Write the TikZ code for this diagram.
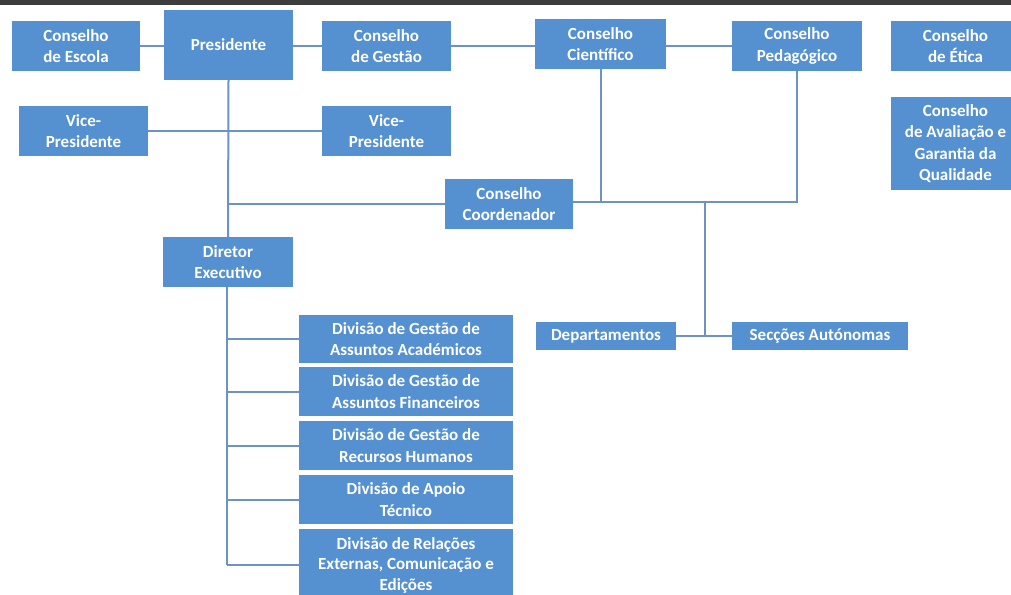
\documentclass[tikz,border=0pt]{standalone}
\usepackage{fontspec}
\setmainfont{Carlito}
\definecolor{boxblue}{HTML}{5590D0}
\definecolor{linkblue}{HTML}{6D92C4}
\definecolor{topbar}{HTML}{3C3C3C}
\begin{document}
\begin{tikzpicture}[x=1pt,y=-1pt,
  orgbox/.style={fill=boxblue, text=white, font=\fontsize{17}{21.5}\selectfont\bfseries,
    align=center, inner sep=0pt, minimum width=#1},
  orgbox/.default=129pt,
  link/.style={draw=linkblue, line width=2pt}]
\useasboundingbox (0,0) rectangle (1011,594);
\clip (0,0) rectangle (1011,594);
\fill[topbar] (0,0) rectangle (1011,5);
% top row
\node[orgbox=128pt, minimum height=50pt] (escola) at (76,46) {Conselho\\de Escola};
\node[orgbox, minimum height=70pt] (pres) at (228.5,45) {Presidente};
\node[orgbox, minimum height=50pt] (gestao) at (386.5,46) {Conselho\\de Gestão};
\node[orgbox=131pt, minimum height=50pt] (cient) at (600.5,44) {Conselho\\Científico};
\node[orgbox=130pt, minimum height=50pt] (pedag) at (797,46) {Conselho\\Pedagógico};
\node[orgbox, minimum height=50pt] (etica) at (955.5,46) {Conselho\\de Ética};
\node[orgbox, minimum height=93pt] (aval) at (955.5,143.5) {Conselho\\de Avaliação e\\Garantia da\\Qualidade};
% vice-presidents
\node[orgbox, minimum height=50pt] (vpL) at (83.5,131) {Vice-\\Presidente};
\node[orgbox, minimum height=50pt] (vpR) at (386.5,131) {Vice-\\Presidente};
% coordinator and director
\node[orgbox=128pt, minimum height=50pt] (coord) at (509,204) {Conselho\\Coordenador};
\node[orgbox=130pt, minimum height=50pt] (dir) at (228,262) {Diretor\\Executivo};
% divisions
\node[orgbox=214pt, minimum height=48pt] (div1) at (406,339) {Divisão de Gestão de\\Assuntos Académicos};
\node[orgbox=214pt, minimum height=49pt] (div2) at (406,391.5) {Divisão de Gestão de\\Assuntos Financeiros};
\node[orgbox=214pt, minimum height=49pt] (div3) at (406,445.5) {Divisão de Gestão de\\Recursos Humanos};
\node[orgbox=214pt, minimum height=49pt] (div4) at (406,499.5) {Divisão de Apoio\\Técnico};
\node[orgbox=214pt, minimum height=72pt, font=\fontsize{17}{20.5}\selectfont\bfseries] (div5) at (406,565) {Divisão de Relações\\Externas, Comunicação e\\Edições};
% departments
\node[orgbox=140pt, minimum height=28pt] (dep) at (606,336) {Departamentos};
\node[orgbox=176pt, minimum height=28pt] (sec) at (820,336) {Secções Autónomas};
% connectors
\draw[link] (escola.east) -- (escola.east -| pres.west);
\draw[link] (pres.east |- gestao.west) -- (gestao.west);
\draw[link] (gestao.east) -- (gestao.east -| cient.west);
\draw[link] (cient.east |- pedag.west) -- (pedag.west);
\draw[link] (vpL.east) -- (vpR.west);
\draw[link] (pres.south) -- (dir.north);
\draw[link] (pres.south |- coord.west) -- (coord.west);
\coordinate (busR) at (pedag.south |- 0,202);
\coordinate (busL) at (coord.east |- busR);
\draw[link] (busL) -- (busR) -- (pedag.south);
\draw[link] (cient.south) -- (cient.south |- busR);
\coordinate (tap) at (705,202);
\draw[link] (tap) -- (tap |- dep.east);
\draw[link] (dep.east) -- (sec.west);
\coordinate (dirbot) at (227,565);
\draw[link] (dir.south -| dirbot) -- (dirbot);
\foreach \d in {div1,div2,div3,div4} {
  \draw[link] (dirbot |- \d.west) -- (\d.west);
}
\draw[link] (dirbot) -- (dirbot -| div5.west);
\end{tikzpicture}
\end{document}
